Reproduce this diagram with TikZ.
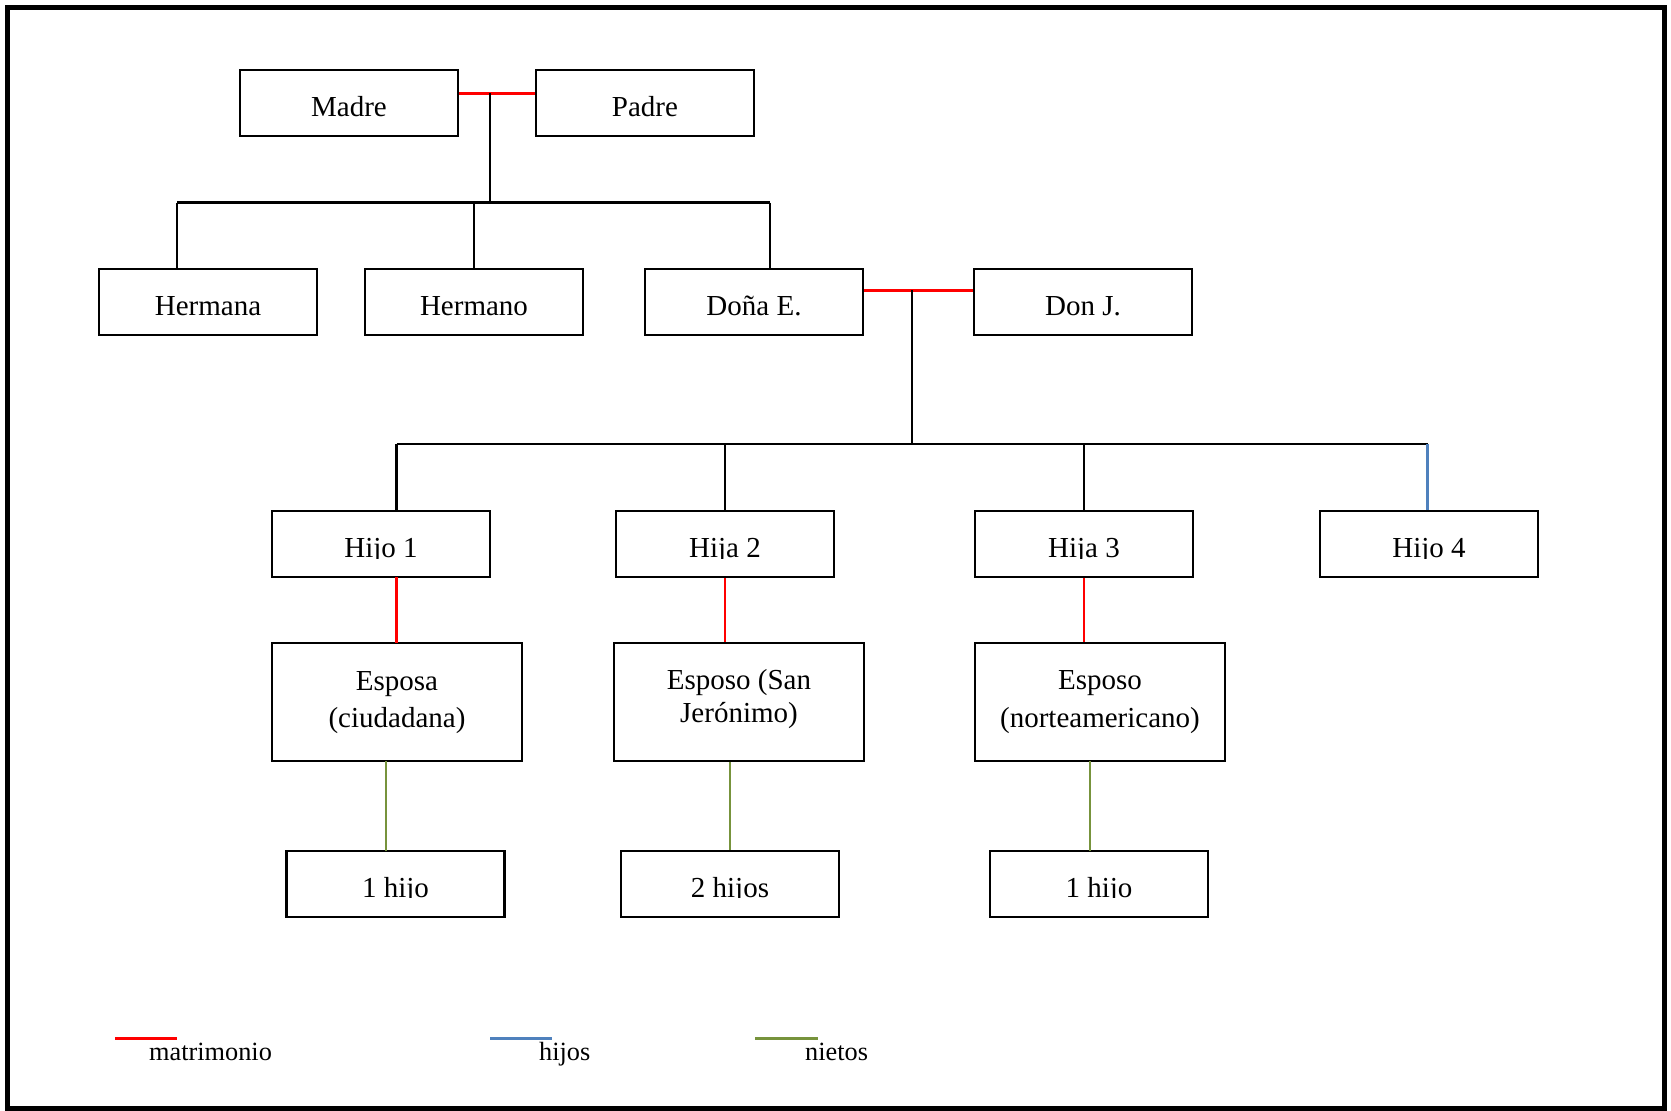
\documentclass[tikz,border=0pt]{standalone}
\usepackage{fontspec}
\setmainfont{Liberation Serif}
\definecolor{marrcol}{HTML}{FF0000}
\definecolor{kidcol}{HTML}{4F81BD}
\definecolor{grandcol}{HTML}{77933C}
\tikzset{
  box/.style={draw=black, line width=2.2pt, inner sep=0pt, fill=white},
  rowbox/.style={box, minimum width=218pt, minimum height=66pt},
  spousebox/.style={box, minimum width=250pt, minimum height=118pt},
  lbl/.style={inner sep=0pt, anchor=base, font=\fontsize{29}{33}\selectfont},
  legtxt/.style={inner sep=0pt, anchor=base west, font=\fontsize{26.3}{30}\selectfont},
  kin/.style={draw=black, line width=2.2pt},
  marriage/.style={draw=marrcol, line width=3pt},
  marrv/.style={draw=marrcol, line width=2.2pt},
  kidline/.style={draw=kidcol, line width=2.2pt},
  grandline/.style={draw=grandcol, line width=2.2pt},
  swatch/.style={line width=2.8pt},
}
\begin{document}
\begin{tikzpicture}[x=1pt,y=-1pt]
\useasboundingbox (0,0) rectangle (1671,1111);
\fill[white] (0,0) rectangle (1671,1111);
\draw[line width=5pt] (7.5,7) rectangle (1664,1108);

% junction and bus coordinates
\coordinate (m1) at (490,93);
\coordinate (b1l) at (177,202.5);
\coordinate (b1r) at (770,202.5);
\coordinate (m2) at (912,290);
\coordinate (b2l) at (396.5,444);
\coordinate (b2r) at (1427.5,444);

% boxes: first generation
\node[rowbox] (madre) at (349,103) {};
\node[rowbox] (padre) at (645,103) {};
% second generation
\node[rowbox] (hermana) at (208,302) {};
\node[rowbox] (hermano) at (474,302) {};
\node[rowbox] (donae) at (754,302) {};
\node[rowbox] (donj) at (1083,302) {};
% third generation
\node[rowbox] (hijo1) at (381,544) {};
\node[rowbox] (hija2) at (725,544) {};
\node[rowbox] (hija3) at (1084,544) {};
\node[rowbox] (hijo4) at (1429,544) {};
% spouses
\node[spousebox] (esposa) at (397,702) {};
\node[spousebox] (esposo2) at (739,702) {};
\node[spousebox] (esposo3) at (1100,702) {};
% grandchildren
\node[rowbox] (nieto1) at (395.5,884) {};
\node[rowbox] (nieto2) at (730,884) {};
\node[rowbox] (nieto3) at (1099,884) {};

% marriages of the first and second generation
\draw[marriage] (madre.east |- m1) -- (padre.west |- m1);
\draw[kin] (m1) -- (m1 |- b1l);
\draw[kin] (b1l) -- (b1r);
\draw[kin] (b1l) -- (b1l |- hermana.north);
\draw[kin] (hermano.north |- b1l) -- (hermano.north);
\draw[kin] (b1r) -- (b1r |- donae.north);

\draw[marriage] (donae.east |- m2) -- (donj.west |- m2);
\draw[kin] (m2) -- (m2 |- b2l);
\draw[kin] (b2l) -- (b2r);
\draw[kin] (b2l) -- (b2l |- hijo1.north);
\draw[kin] (hija2.north |- b2l) -- (hija2.north);
\draw[kin] (hija3.north |- b2l) -- (hija3.north);
\draw[kidline] (b2r) -- (b2r |- hijo4.north);

% marriages of the children
\draw[marrv] (396.5,577) -- (396.5,643);
\draw[marrv] (hija2.south) -- (hija2.south |- esposo2.north);
\draw[marrv] (hija3.south) -- (hija3.south |- esposo3.north);
% grandchildren
\draw[grandline] (386,761) -- (386,851);
\draw[grandline] (nieto2.north |- esposo2.south) -- (nieto2.north);
\draw[grandline] (1090,761) -- (1090,851);

% labels
\node[lbl] (madre-t) at (349,116.5) {Madre};
\node[lbl] (padre-t) at (645,116.5) {Padre};
\node[lbl] (hermana-t) at (208,315.5) {Hermana};
\node[lbl] (hermano-t) at (474,315.5) {Hermano};
\node[lbl] (donae-t) at (754,315.5) {Doña E.};
\node[lbl] (donj-t) at (1083,315.5) {Don J.};

\begin{scope}
\clip (272,512) rectangle (490,558.2);
\node[lbl] (hijo1-t) at (381,557.5) {Hijo 1};
\end{scope}
\begin{scope}
\clip (616,512) rectangle (834,558.2);
\node[lbl] (hija2-t) at (725,557.5) {Hija 2};
\end{scope}
\begin{scope}
\clip (975,512) rectangle (1193,558.2);
\node[lbl] (hija3-t) at (1084,557.5) {Hija 3};
\end{scope}
\begin{scope}
\clip (1320,512) rectangle (1538,558.2);
\node[lbl] (hijo4-t) at (1429,557.5) {Hijo 4};
\end{scope}

\node[lbl] (esposa-t1) at (397,690) {Esposa};
\node[lbl] (esposa-t2) at (397,727.7) {(ciudadana)};
\node[lbl] (esposo2-t1) at (739,689.3) {Esposo (San};
\node[lbl] (esposo2-t2) at (739,722.7) {Jerónimo)};
\node[lbl] (esposo3-t1) at (1100,689.5) {Esposo};
\node[lbl] (esposo3-t2) at (1100,727.5) {(norteamericano)};

\begin{scope}
\clip (287,852) rectangle (504,897.6);
\node[lbl] (nieto1-t) at (395.5,897) {1 hijo};
\end{scope}
\begin{scope}
\clip (621,852) rectangle (839,897.6);
\node[lbl] (nieto2-t) at (730,897) {2 hijos};
\end{scope}
\begin{scope}
\clip (990,852) rectangle (1208,897.6);
\node[lbl] (nieto3-t) at (1099,897) {1 hijo};
\end{scope}

% legend
\coordinate (lr1) at (115,1038.3);
\coordinate (lr2) at (177,1038.3);
\coordinate (lb1) at (490,1038.3);
\coordinate (lb2) at (552,1038.3);
\coordinate (lg1) at (755,1038.3);
\coordinate (lg2) at (818,1038.3);
\draw[swatch, marrcol] (lr1) -- (lr2);
\draw[swatch, kidcol] (lb1) -- (lb2);
\draw[swatch, grandcol] (lg1) -- (lg2);
\node[legtxt] (leg-m) at (149,1060) {matrimonio};
\node[legtxt] (leg-h) at (539,1060) {hijos};
\node[legtxt] (leg-n) at (805,1060) {nietos};
\end{tikzpicture}
\end{document}
